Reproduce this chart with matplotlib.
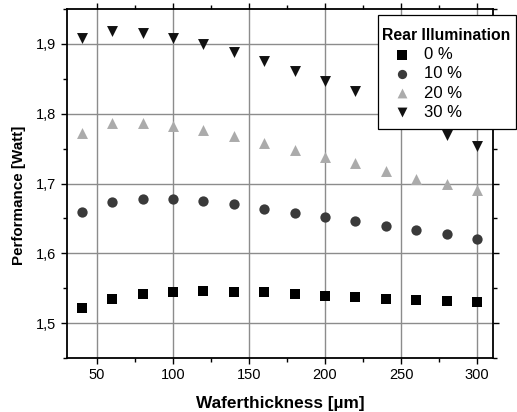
import matplotlib
matplotlib.use("Agg")
import matplotlib.pyplot as plt
from matplotlib.ticker import FuncFormatter, MultipleLocator
from matplotlib.patches import Rectangle

plt.rcParams['font.family'] = ['Liberation Sans', 'DejaVu Sans']

thickness = [40, 60, 80, 100, 120, 140, 160, 180, 200, 220, 240, 260, 280, 300]
rear_0 = [1.521, 1.535, 1.541, 1.545, 1.546, 1.545, 1.544, 1.541, 1.539, 1.538, 1.535, 1.533, 1.531, 1.530]
rear_10 = [1.659, 1.674, 1.678, 1.678, 1.675, 1.670, 1.664, 1.658, 1.652, 1.646, 1.639, 1.633, 1.627, 1.621]
rear_20 = [1.773, 1.786, 1.787, 1.783, 1.777, 1.768, 1.758, 1.748, 1.738, 1.729, 1.718, 1.707, 1.699, 1.690]
rear_30 = [1.909, 1.918, 1.916, 1.909, 1.900, 1.888, 1.875, 1.861, 1.847, 1.832, 1.816, 1.800, 1.769, 1.754]
labels = ['0 %', '10 %', '20 %', '30 %']

W, H = 517, 412
fig = plt.figure(figsize=(W/100, H/100), dpi=100)
ax = fig.add_axes([67/W, 1-358/H, (493-67)/W, (358-9)/H])

ax.scatter(thickness, rear_0, marker='s', s=52, color='#000000', label=labels[0], zorder=3, linewidths=0)
ax.scatter(thickness, rear_10, marker='o', s=55, color='#3a3a3a', label=labels[1], zorder=3, linewidths=0)
ax.scatter(thickness, rear_20, marker='^', s=62, color='#ababab', label=labels[2], zorder=3, linewidths=0)
ax.scatter(thickness, rear_30, marker='v', s=62, color='#111111', label=labels[3], zorder=3, linewidths=0)

ax.set_xlim(30.3, 310.5)
ax.set_ylim(1.45, 1.95)
ax.xaxis.set_major_locator(MultipleLocator(50))
ax.xaxis.set_minor_locator(MultipleLocator(25))
ax.yaxis.set_major_locator(MultipleLocator(0.1))
ax.yaxis.set_minor_locator(MultipleLocator(0.05))
ax.yaxis.set_major_formatter(FuncFormatter(lambda v, p: f"{v:.1f}".replace('.', ',')))

ax.grid(True, which='major', color='#8c8c8c', linewidth=1.0, zorder=0)
ax.set_axisbelow(True)
for s in ax.spines.values():
    s.set_linewidth(1.3)
    s.set_color('black')
ax.tick_params(which='both', direction='out', top=True, right=True, labeltop=False, labelright=False,
               width=1.0, labelsize=10.5)
ax.tick_params(which='major', length=4)
ax.tick_params(which='minor', length=3)

ax.set_xlabel('Waferthickness [µm]', fontsize=12.4, fontweight='bold', labelpad=10)
ax.set_ylabel('Performance [Watt]', fontsize=10.9, fontweight='bold')
ax.yaxis.set_label_coords((26-67)/426, (358-195)/349)

# legend frame
rect = Rectangle((378/W, 1-129/H), (516-378)/W, (129-15)/H, transform=fig.transFigure,
                 facecolor='white', edgecolor='black', linewidth=0.9, zorder=4, clip_on=False)
ax.add_artist(rect)

leg = ax.legend(title='Rear Illumination', loc='upper left', bbox_to_anchor=(382/W, 1-28/H),
                bbox_transform=fig.transFigure, frameon=False,
                fontsize=12, title_fontproperties={'weight': 'bold', 'size': 11.3},
                alignment='left', handletextpad=0.15, labelspacing=0.25, borderpad=0,
                borderaxespad=0, handlelength=2.4, markerscale=0.9)
leg.set_zorder(5)

fig.savefig('out.png', dpi=100)
